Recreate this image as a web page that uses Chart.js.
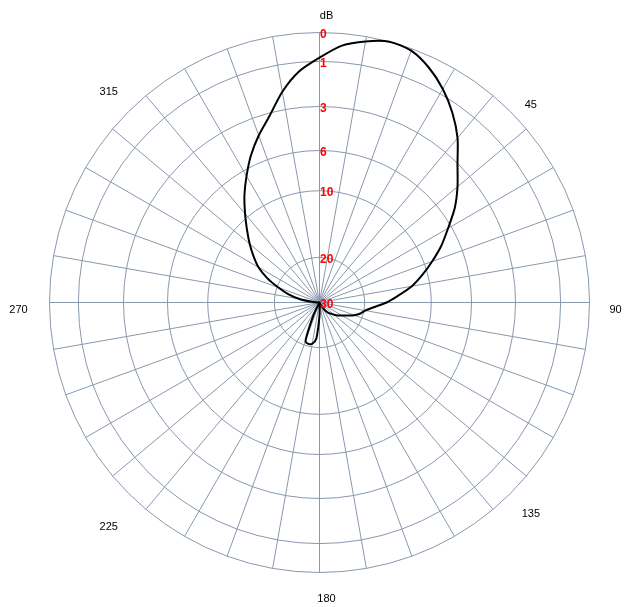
<!DOCTYPE html>
<html><head><meta charset="utf-8">
<script src="https://cdn.jsdelivr.net/npm/chart.js@4/dist/chart.umd.min.js"></script>
<style>html,body{margin:0;padding:0;background:#fff;}canvas{display:block;}</style>
</head><body>
<canvas id="c" width="634" height="607"></canvas>
<script>
// Azimuth categories (degrees, clockwise from top)
const ANGLES = [0,5,10,15,20,25,30,35,40,45,50,55,60,65,70,75,80,85,90,95,100,105,110,115,120,125,130,135,140,145,150,155,160,165,170,175,
  180,185,190,195,200,205,210,215,220,225,230,235,240,245,250,255,260,265,270,275,280,285,290,295,300,305,310,315,320,325,330,335,340,345,350,355];
// Attenuation below maximum, dB
const GAIN_DB = [0.87,0.42,0.17,0.0,0.07,0.38,0.81,1.42,2.17,3.06,4.08,5.10,6.35,7.75,9.2,10.8,12.7,14.9,16.7,18.6,19.8,20.6,21.8,23.2,24.2,25.0,25.8,26.5,27.1,27.9,28.8,29.5,30,29.8,29.6,29.4,
  27.0,22.0,20.7,20.5,20.9,26.5,29.6,30,30,30,30,30,30,30,30,30,30,30,29.8,28.3,25.5,22.8,20.3,18.1,16.2,14.7,13.1,11.4,9.6,8.1,6.6,5.3,4.25,3.2,2.2,1.4];
// Radial dB scale rings and their fraction of the plot radius
const RING_DB = [30, 20, 10, 6, 3, 1, 0];
const RING_FRACTION = [0, 0.167, 0.414, 0.563, 0.726, 0.893, 1];
// Angle labels
const LABEL_ANGLES = [0, 45, 90, 135, 180, 225, 270, 315];
const LABEL_TEXT = ['dB', '45', '90', '135', '180', '225', '270', '315'];

const GRID = '#8898ad';

function dbToFraction(db) {
  if (db <= RING_DB[RING_DB.length - 1]) return 1;
  for (let i = 0; i < RING_DB.length - 1; i++) {
    const a = RING_DB[i], b = RING_DB[i + 1];
    if (db <= a && db >= b) {
      const t = (a - db) / (a - b);
      return RING_FRACTION[i] + t * (RING_FRACTION[i + 1] - RING_FRACTION[i]);
    }
  }
  return 0;
}

const labelPlugin = {
  id: 'polarLabels',
  afterDatasetsDraw(chart) {
    const s = chart.scales.r;
    const ctx = chart.ctx;
    ctx.save();
    ctx.font = 'bold 12px "Liberation Sans", Arial, sans-serif';
    ctx.fillStyle = '#ff0000';
    ctx.textAlign = 'left';
    ctx.textBaseline = 'middle';
    RING_DB.forEach((db, i) => {
      const d = s.getDistanceFromCenterForValue(RING_FRACTION[i]);
      ctx.fillText(String(db), s.xCenter + 0.5, s.yCenter - d + 2);
    });
    ctx.font = '11px "Liberation Sans", Arial, sans-serif';
    ctx.fillStyle = '#000';
    ctx.textAlign = 'center';
    LABEL_ANGLES.forEach((ang, k) => {
      const idx = ANGLES.indexOf(ang);
      const extra = ang === 0 ? 24 : (ang <= 180 ? 19 : 38);
      const p = s.getPointPosition(idx, s.drawingArea + extra);
      ctx.fillText(LABEL_TEXT[k], p.x + 7, p.y + 7);
    });
    ctx.restore();
  }
};

new Chart(document.getElementById('c'), {
  type: 'radar',
  data: {
    labels: ANGLES,
    datasets: [{
      data: GAIN_DB.map(dbToFraction),
      borderColor: '#000',
      borderWidth: 2,
      fill: false,
      tension: 0.25,
      pointRadius: 0,
      borderJoinStyle: 'round'
    }]
  },
  options: {
    responsive: false,
    animation: false,
    devicePixelRatio: 1,
    plugins: { legend: { display: false }, tooltip: { enabled: false } },
    scales: {
      r: {
        min: 0,
        max: 1,
        startAngle: 0,
        ticks: { display: false },
        afterBuildTicks: (s) => { s.ticks = RING_FRACTION.map(v => ({ value: v })); },
        afterFit: (s) => { s.xCenter = 319.5; s.yCenter = 302.5; s.drawingArea = 270; },
        grid: { color: GRID, lineWidth: 1, circular: false },
        angleLines: {
          color: (c) => (ANGLES[c.index] % 10 === 0 ? GRID : 'rgba(0,0,0,0)'),
          lineWidth: (c) => (ANGLES[c.index] % 10 === 0 ? 1 : 0)
        },
        pointLabels: { display: false }
      }
    }
  },
  plugins: [labelPlugin]
});
</script>
</body></html>
